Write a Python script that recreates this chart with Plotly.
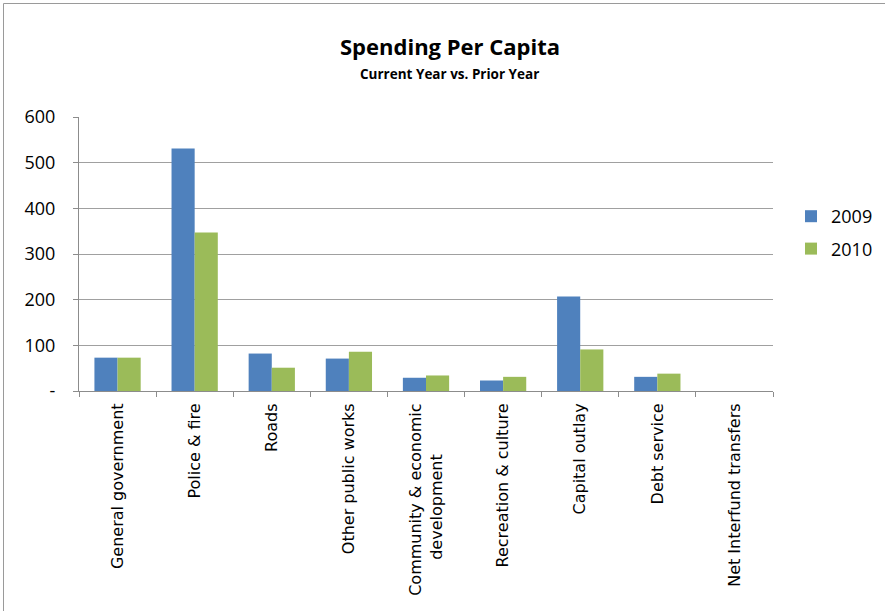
import plotly.graph_objects as go

categories = ["General government", "Police & fire", "Roads", "Other public works",
              "Community & economic development", "Recreation & culture",
              "Capital outlay", "Debt service", "Net Interfund transfers"]
tick_labels = ["General government", "Police & fire", "Roads", "Other public works",
               "Community & economic<br>development" + "\u00a0" * 10, "Recreation & culture",
               "Capital outlay", "Debt service", "Net Interfund transfers"]
values_2009 = [73, 531, 82, 71, 29, 23, 207, 31, 0]
values_2010 = [73, 347, 51, 86, 34, 31, 91, 38, 0]
y_ticks = [0, 100, 200, 300, 400, 500, 600]
y_tick_text = ["-", "100", "200", "300", "400", "500", "600"]

W, H = 885, 611
L, R, T, B = 79, 773, 117, 391
pw, ph = R - L, B - T

def px(x):
    return (x - L) / pw

def py(y):
    return (B - y) / ph

fig = go.Figure()
fig.add_trace(go.Bar(x=categories, y=values_2009, name="2009", marker_color="#4F81BD",
                     marker_line_width=0, legendgroup="a"))
fig.add_trace(go.Bar(x=categories, y=values_2010, name="2010", marker_color="#9BBB59",
                     marker_line_width=0, legendgroup="b"))

fig.update_layout(
    width=W, height=H,
    margin=dict(l=L, r=W - R, t=T, b=H - B, autoexpand=False),
    paper_bgcolor="white", plot_bgcolor="white",
    barmode="group", bargap=0.4, bargroupgap=0,
    font=dict(family="Open Sans, sans-serif", color="#000000"),
    showlegend=True,
    legend=dict(x=px(791), y=py(198), xanchor="left", yanchor="top",
                font=dict(size=18, family="Open Sans, sans-serif"),
                itemwidth=30, tracegroupgap=6, bgcolor="rgba(0,0,0,0)"),
    xaxis=dict(
        type="category", tickvals=categories, ticktext=tick_labels,
        tickangle=-90, tickfont=dict(family="DejaVu Sans, sans-serif", size=16),
        showline=True, linecolor="#8c8c8c", linewidth=1,
        ticks="outside", tickson="boundaries", ticklen=5, tickcolor="#8c8c8c",
        ticklabelstandoff=5,
        showgrid=False, zeroline=False, range=[-0.5, 8.5],
    ),
    yaxis=dict(
        range=[0, 600], tickvals=y_ticks, ticktext=y_tick_text,
        tickfont=dict(size=18, family="Open Sans, sans-serif"),
        showline=True, linecolor="#8c8c8c", linewidth=1,
        ticks="outside", ticklen=5, tickcolor="#8c8c8c", ticklabelstandoff=14,
        showgrid=True, gridcolor="#a0a0a0", gridwidth=1, zeroline=False,
    ),
    annotations=[
        dict(text="<b>Spending Per Capita</b>", x=px(450), y=py(46.5), xref="paper", yref="paper",
             showarrow=False, font=dict(size=22, family="Open Sans, sans-serif"), xanchor="center", yanchor="middle"),
        dict(text="<b>Current Year vs. Prior Year</b>", x=px(449), y=py(74), xref="paper", yref="paper",
             showarrow=False, font=dict(size=13.5, family="Open Sans, sans-serif"), xanchor="center", yanchor="middle"),
    ],
    shapes=[
        dict(type="line", xref="paper", yref="paper", x0=px(3.5), x1=px(3.5), y0=py(3.5), y1=py(640),
             line=dict(color="#9a9a9a", width=1)),
        dict(type="line", xref="paper", yref="paper", x0=px(3.5), x1=px(900), y0=py(3.5), y1=py(3.5),
             line=dict(color="#9a9a9a", width=1)),
    ],
)

fig.write_html("out.html")
